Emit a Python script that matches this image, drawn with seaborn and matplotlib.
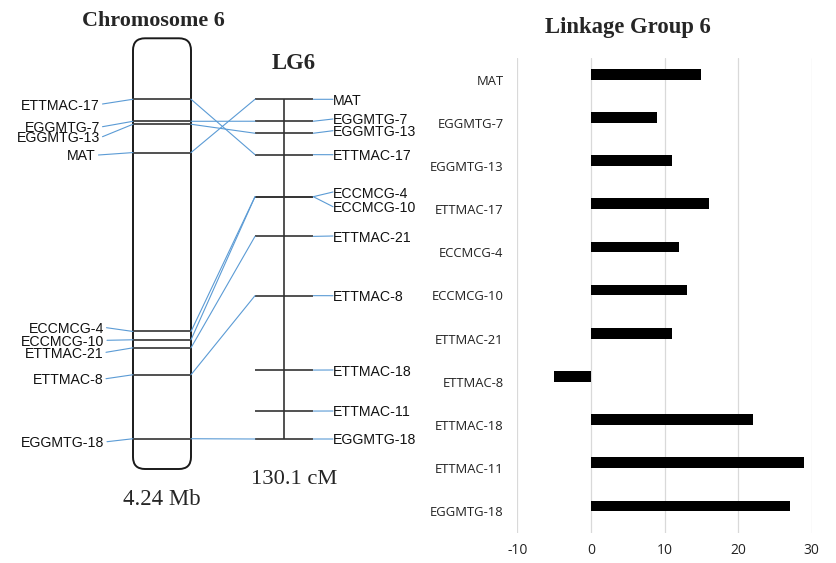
import numpy as np
import pandas as pd
import seaborn as sns
import matplotlib
matplotlib.use("Agg")
import matplotlib.pyplot as plt
from matplotlib.patches import FancyBboxPatch, ConnectionPatch

# ---- data -------------------------------------------------------------
markers = ["MAT", "EGGMTG-7", "EGGMTG-13", "ETTMAC-17", "ECCMCG-4", "ECCMCG-10",
           "ETTMAC-21", "ETTMAC-8", "ETTMAC-18", "ETTMAC-11", "EGGMTG-18"]
# physical position on chromosome 6 (Mb); nan = not placed on the chromosome
chr_pos_mb = [1.125, 0.817, 0.846, 0.600, 2.886, 2.968, 3.047, 3.312,
              np.nan, np.nan, 3.942]
# genetic position on linkage group 6 (cM)
lg_pos_cm = [0.0, 8.4, 13.0, 21.2, 37.3, 37.3, 52.5, 75.2, 103.7, 119.4, 130.1]
chr_length_mb = 4.24
lg_length_cm = 130.1
bar_values = [15, 9, 11, 16, 12, 13, 11, -5, 22, 29, 27]
x_ticks = [-10, 0, 10, 20, 30]

# ---- label layout (figure pixels) --------------------------------------
left_label_x = [96, 100, 100, 100, 104, 104.5, 103.5, 103.5, None, None, 104.5]
left_label_y = [155, 126.7, 136.7, 104, 327.7, 340.3, 352.3, 378.7, None, None, 441.7]
right_label_y = [99.3, 119, 130.7, 154.7, 192, 206.7, 236, 295.7, 370, 411, 439]
right_label_x = 333

W, H = 836, 563
BLUE = "#5B9BD5"
DARK = "#333333"

sns.set_theme(style="white")
plt.rcParams["font.family"] = ["Liberation Sans", "DejaVu Sans"]
plt.rcParams["axes.unicode_minus"] = False

fig = plt.figure(figsize=(W / 100, H / 100), dpi=100)


def px_axes(left, top, right, bottom, **kw):
    return fig.add_axes([left / W, 1 - bottom / H, (right - left) / W, (bottom - top) / H], **kw)


# pixel overlay for labels and titles
ax_px = px_axes(0, 0, W, H)
ax_px.set_xlim(0, W)
ax_px.set_ylim(H, 0)
ax_px.axis("off")

# ---- chromosome 6 -------------------------------------------------------
ax_chr = px_axes(133, 38.3, 191, 469)
ax_chr.set_xlim(0, 1)
ax_chr.set_ylim(chr_length_mb, 0)
ax_chr.axis("off")
ax_chr.patch.set_alpha(0)
box = FancyBboxPatch((0, 0), 1, 1, transform=ax_chr.transAxes,
                     boxstyle=f"round,pad=0,rounding_size={12 / 58}",
                     mutation_aspect=58 / 430.7, facecolor="none",
                     edgecolor="#1a1a1a", lw=1.4, clip_on=False)
ax_chr.add_patch(box)
placed = [p for p in chr_pos_mb if not np.isnan(p)]
ax_chr.hlines(placed, 0, 1, color=DARK, lw=1.2)

# ---- linkage group 6 ------------------------------------------------------
ax_lg = px_axes(255, 99.3, 313.3, 439)
ax_lg.set_xlim(0, 1)
ax_lg.set_ylim(lg_length_cm, 0)
ax_lg.axis("off")
ax_lg.patch.set_alpha(0)
ax_lg.vlines(0.5, 0, lg_length_cm, color=DARK, lw=1.2, clip_on=False)
ax_lg.hlines(lg_pos_cm, 0, 1, color=DARK, lw=1.2, clip_on=False)

label_kw = dict(fontsize=10.2, color="#111111", va="center_baseline")
for i, name in enumerate(markers):
    # chromosome side
    if not np.isnan(chr_pos_mb[i]):
        lx, ly = left_label_x[i], left_label_y[i]
        ax_px.text(lx, ly, name, ha="right", **label_kw)
        fig.add_artist(ConnectionPatch((lx + 2.5, ly), (0, chr_pos_mb[i]),
                                       coordsA=ax_px.transData, coordsB=ax_chr.transData,
                                       color=BLUE, lw=0.8))
        fig.add_artist(ConnectionPatch((1, chr_pos_mb[i]), (0, lg_pos_cm[i]),
                                       coordsA=ax_chr.transData, coordsB=ax_lg.transData,
                                       color=BLUE, lw=0.8))
    # linkage group side
    ry = right_label_y[i]
    ax_px.text(right_label_x, ry, name, ha="left", **label_kw)
    fig.add_artist(ConnectionPatch((1, lg_pos_cm[i]), (right_label_x, ry),
                                   coordsA=ax_lg.transData, coordsB=ax_px.transData,
                                   color=BLUE, lw=0.8))

serif = ["Liberation Serif", "DejaVu Serif"]
ax_px.text(153, 18, "Chromosome 6", ha="center", va="center_baseline",
           family=serif, fontsize=15.8, fontweight="bold")
ax_px.text(293.5, 61, "LG6", ha="center", va="center_baseline",
           family=serif, fontsize=16.3, fontweight="bold")
ax_px.text(161.5, 497, "4.24 Mb", ha="center", va="center_baseline",
           family=serif, fontsize=16.4)
ax_px.text(294.5, 477, "130.1 cM", ha="center", va="center_baseline",
           family=serif, fontsize=16.2)
ax_px.text(628, 25, "Linkage Group 6", ha="center", va="center_baseline",
           family=serif, fontsize=16.3, fontweight="bold")

# ---- bar chart --------------------------------------------------------------
df = pd.DataFrame({"marker": markers, "value": bar_values})
ax_bar = px_axes(517.3, 58, 811.7, 533)
sns.barplot(data=df, x="value", y="marker", orient="h", color="black",
            saturation=1, width=0.25, linewidth=0, ax=ax_bar)
for p in ax_bar.patches:
    p.set_y(p.get_y() - 0.125)
ax_bar.set_xlim(-10, 30)
ax_bar.set_xticks(x_ticks)
ax_bar.set_xlabel("")
ax_bar.set_ylabel("")
ax_bar.grid(axis="x", color="#d9d9d9", lw=0.9)
ax_bar.grid(axis="y", visible=False)
ax_bar.set_axisbelow(True)
for s in ax_bar.spines.values():
    s.set_visible(False)
ax_bar.patch.set_alpha(0)
ax_bar.tick_params(axis="both", length=0, labelsize=9.4, colors="#222222")
ax_bar.tick_params(axis="y", pad=10)
ax_bar.tick_params(axis="x", pad=7, labelsize=10)
for t in ax_bar.get_xticklabels() + ax_bar.get_yticklabels():
    t.set_family(["Open Sans", "DejaVu Sans"])

fig.savefig("out.png", dpi=100)
